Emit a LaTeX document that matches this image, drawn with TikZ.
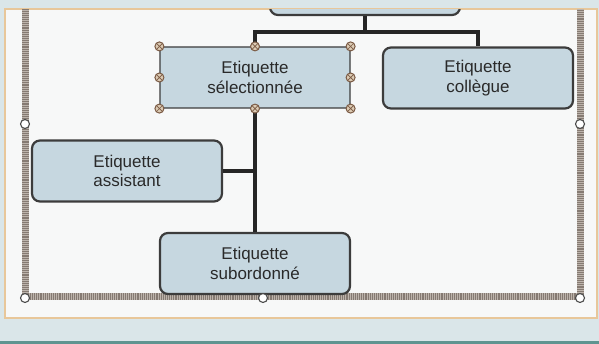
\documentclass[tikz,border=0pt]{standalone}
\usepackage{fontspec}
\setmainfont{Liberation Sans}
\definecolor{outerbg}{HTML}{DAE6E9}
\definecolor{panelbg}{HTML}{F7F8F8}
\definecolor{panelline}{HTML}{E8C79A}
\definecolor{bottomline}{HTML}{5F9490}
\definecolor{boxfill}{HTML}{C6D7E0}
\definecolor{boxline}{HTML}{3C3C3C}
\definecolor{labeltext}{HTML}{2A2A2A}
\definecolor{bandlight}{HTML}{BDB4AC}
\definecolor{banddark}{HTML}{857A72}
\definecolor{handleline}{HTML}{7A5A44}
\definecolor{handlefill}{HTML}{DCCBB4}
\tikzset{
  label box/.style={draw=boxline, line width=2.2pt, fill=boxfill, rounded corners=8pt,
    minimum width=190pt, minimum height=61pt, align=center, text=labeltext,
    font=\fontsize{17}{19.5}\selectfont},
  picked/.style={line width=1.2pt, rounded corners=3pt},
  link/.style={line width=3.6pt, draw=black!85},
  handle/.style={circle, draw=handleline, fill=handlefill, line width=1pt, inner sep=0pt,
    minimum size=9pt, path picture={
      \draw[handleline, line width=0.7pt]
        (path picture bounding box.north west) -- (path picture bounding box.south east)
        (path picture bounding box.north east) -- (path picture bounding box.south west);}},
  frame handle/.style={circle, draw=black!70, fill=white, line width=1.1pt, inner sep=0pt,
    minimum size=9pt},
}
\begin{document}
\begin{tikzpicture}[x=1pt,y=-1pt]
  \useasboundingbox (0,0) rectangle (599,344);
  % background and panel
  \fill[outerbg] (0,0) rectangle (599,344);
  \fill[bottomline] (0,341) rectangle (599,344);
  \fill[panelbg] (5,9) rectangle (597,318);
  \draw[panelline, line width=1.2pt] (5,9) rectangle (597,318);

  \begin{scope}
    \clip (5,9.6) rectangle (597,317.4);
    % selection frame
    \draw[bandlight, line width=7pt] (25,0) -- (25,297) -- (580,297) -- (580,0);
    \draw[banddark, line width=7pt, dash pattern=on 0.9pt off 1pt] (25,0) -- (25,297) -- (580,297) -- (580,0);

    % labels
    \node[label box] (boss) at (365,-15.5) {};
    \node[label box, picked] (sel) at (255,77.5) {Etiquette\\sélectionnée};
    \node[label box] (coll) at (478,78) {Etiquette\\collègue};
    \node[label box] (asst) at (127,171) {Etiquette\\assistant};
    \node[label box] (sub) at (255,263.5) {Etiquette\\subordonné};

    % connectors
    \coordinate (bus) at (365,32);
    \draw[link] (boss.south) -- (bus);
    \draw[link] (sel.north) |- (bus) -| (coll.north);
    \draw[link] (sel.south) -- (sub.north);
    \draw[link] (asst.east) -- (asst.east -| sel.south);

    % handles of the picked label
    \foreach \a in {north west,north,north east,west,east,south west,south,south east}
      \node[handle] at (sel.\a) {};

    % handles of the frame
    \node[frame handle] (fh1) at (25,124) {};
    \node[frame handle] (fh2) at (580,124) {};
    \node[frame handle] (fh3) at (25,298) {};
    \node[frame handle] (fh4) at (263,298) {};
    \node[frame handle] (fh5) at (580,298) {};
  \end{scope}
\end{tikzpicture}
\end{document}
